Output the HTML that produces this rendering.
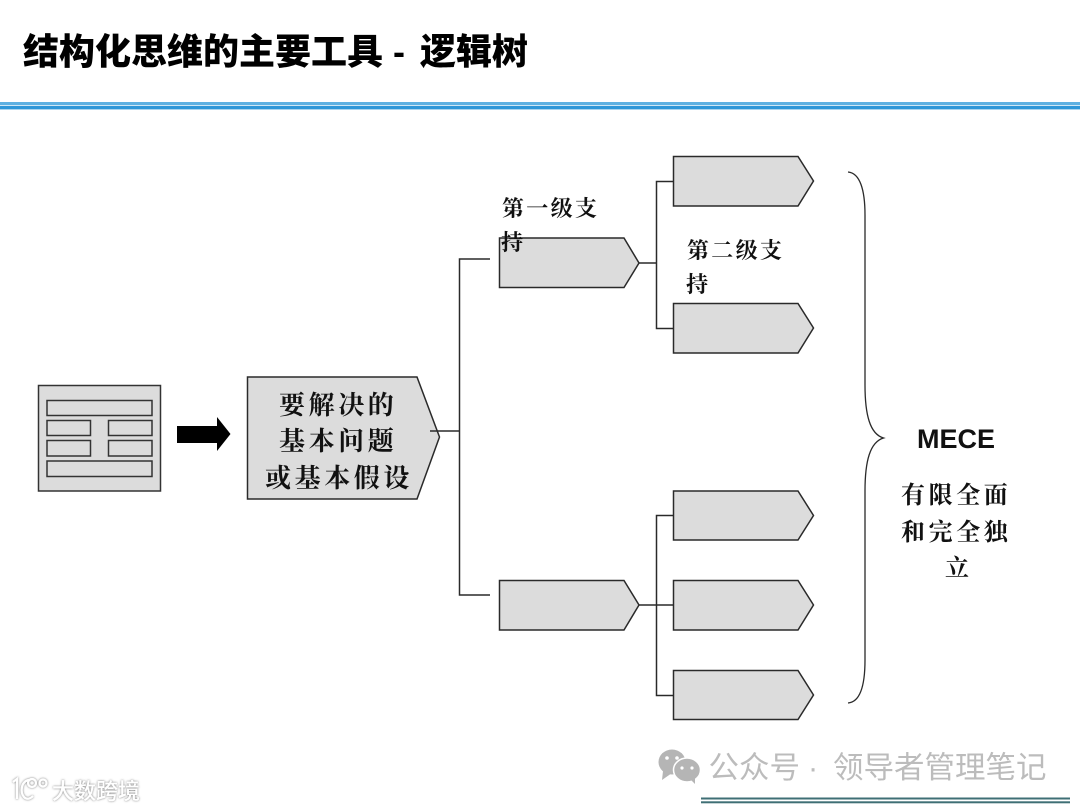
<!DOCTYPE html>
<html lang="zh">
<head>
<meta charset="utf-8">
<style>
html,body{margin:0;padding:0;background:#fff;width:1080px;height:810px;overflow:hidden}
svg{display:block}
.serif{font-family:"Liberation Serif","Noto Serif CJK SC",serif;fill:#111;font-weight:700}
.sans{font-family:"Liberation Sans","Noto Sans CJK SC",sans-serif}
</style>
</head>
<body>
<svg width="1080" height="810" viewBox="0 0 1080 810" xmlns="http://www.w3.org/2000/svg">
<defs>
<filter id="sh" x="-10%" y="-20%" width="120%" height="140%"><feDropShadow dx="0" dy="0" stdDeviation="1.1" flood-color="#666" flood-opacity="0.95"/></filter>
</defs>
<rect width="1080" height="810" fill="#fff"/>

<!-- Title -->
<text class="sans" x="23" y="64" font-size="36" font-weight="900" fill="#000">结构化思维的主要工具</text>
<text class="sans" x="393" y="64" font-size="36" font-weight="900" fill="#000">-</text>
<text class="sans" x="420" y="64" font-size="36" font-weight="900" fill="#000">逻辑树</text>

<!-- Header rule -->
<rect x="0" y="102" width="1080" height="3" fill="#5fb1e2"/>
<rect x="0" y="105" width="1080" height="1" fill="#cfe7f6"/>
<rect x="0" y="106" width="1080" height="3.4" fill="#2f97d8"/>

<!-- Left document -->
<g fill="#dcdcdc" stroke="#333" stroke-width="1.5">
<rect x="38.500" y="385.500" width="122" height="105.500"/>
<rect x="47" y="400.500" width="105" height="15"/>
<rect x="47" y="420.500" width="43.500" height="15"/>
<rect x="108.500" y="420.500" width="43.500" height="15"/>
<rect x="47" y="440.500" width="43.500" height="15.500"/>
<rect x="108.500" y="440.500" width="43.500" height="15.500"/>
<rect x="47" y="461" width="105" height="15.500"/>
</g>

<!-- Block arrow -->
<polygon points="177,426 217,426 217,417 230.500,434 217,451 217,443 177,443" fill="#000"/>

<!-- Connectors -->
<g fill="none" stroke="#2a2a2a" stroke-width="1.500">
<path d="M430 431H460M490 259H459.500V595H490"/>
<path d="M639 263H657M673 181.500H656.500V328.500H673"/>
<path d="M639 605H673M673 515.500H656.500V695.500H673"/>
</g>

<!-- Pentagons -->
<g fill="#dcdcdc" stroke="#2a2a2a" stroke-width="1.500">
<polygon points="247.500,377 417,377 439.500,437 417,499 247.500,499"/>
<polygon points="499.500,238 624,238 639,263 624,287.500 499.500,287.500"/>
<polygon points="499.500,580.500 624,580.500 639,605 624,630 499.500,630"/>
<polygon points="673.500,156.500 798,156.500 813.500,181 798,206 673.500,206"/>
<polygon points="673.500,303.500 798,303.500 813.500,328 798,353 673.500,353"/>
<polygon points="673.500,491 798,491 813.500,515.500 798,540 673.500,540"/>
<polygon points="673.500,580.500 798,580.500 813.500,605 798,630 673.500,630"/>
<polygon points="673.500,670.500 798,670.500 813.500,695 798,719.500 673.500,719.500"/>
</g>
<line x1="430" y1="431" x2="437" y2="431" stroke="#2a2a2a" stroke-width="1.500"/>

<!-- Main node text -->
<g class="serif" font-size="26" letter-spacing="3.600">
<text x="279" y="414">要解决的</text>
<text x="279" y="450">基本问题</text>
<text x="265" y="487">或基本假设</text>
</g>

<!-- Level labels -->
<g class="serif" font-size="22" letter-spacing="2.300">
<text x="502" y="216">第一级支</text>
<text x="501" y="250">持</text>
<text x="687" y="258">第二级支</text>
<text x="686" y="292">持</text>
</g>

<!-- Brace -->
<path d="M848 172C860 173 865 190 865 215V385C865 415 870 434 883.500 438C870 442 865 461 865 491V660C865 686 860 702 848 703" fill="none" stroke="#2a2a2a" stroke-width="1.300"/>

<!-- MECE -->
<text x="956" y="448" text-anchor="middle" font-family="'Liberation Sans',sans-serif" font-size="27" font-weight="700" fill="#111">MECE</text>
<g class="serif" font-size="24" letter-spacing="3.600">
<text x="901" y="503">有限全面</text>
<text x="901" y="540">和完全独</text>
<text x="945" y="576">立</text>
</g>

<!-- WeChat watermark -->
<g>
<ellipse cx="672" cy="762" rx="13.500" ry="12.500" fill="#b5b5b5"/>
<polygon points="663,771 662,780 672,773" fill="#b5b5b5"/>
<ellipse cx="687" cy="770" rx="13.500" ry="12" fill="#b5b5b5" stroke="#fff" stroke-width="1.500"/>
<polygon points="691,780 695,784 695,776" fill="#b5b5b5"/>
<circle cx="667" cy="758" r="1.800" fill="#fff"/><circle cx="677" cy="758" r="1.800" fill="#fff"/>
<circle cx="682" cy="768" r="1.600" fill="#fff"/><circle cx="692" cy="768" r="1.600" fill="#fff"/>
</g>
<g class="sans" font-size="30.500" fill="#bcbcbc">
<text x="708.500" y="778">公众号</text>
<text x="808" y="778">·</text>
<text x="833" y="778">领导者管理笔记</text>
</g>

<!-- Bottom rules -->
<rect x="701" y="797.500" width="369" height="2" fill="#3f6f75"/>
<rect x="701" y="801.300" width="369" height="2" fill="#3f6f75"/>

<!-- Left watermark -->
<g filter="url(#sh)" fill="none" stroke="#fff" stroke-width="2.200">
<path d="M13 782L17 779V799"/>
<path d="M33 796C26 803 20 795 22 787C23 782 27 780 29 780"/>
<circle cx="32" cy="783" r="4"/>
<circle cx="43" cy="783" r="3.500"/>
</g>
<text class="sans" x="52" y="799" font-size="22" font-weight="500" fill="#fff" filter="url(#sh)">大数跨境</text>
</svg>
</body>
</html>
